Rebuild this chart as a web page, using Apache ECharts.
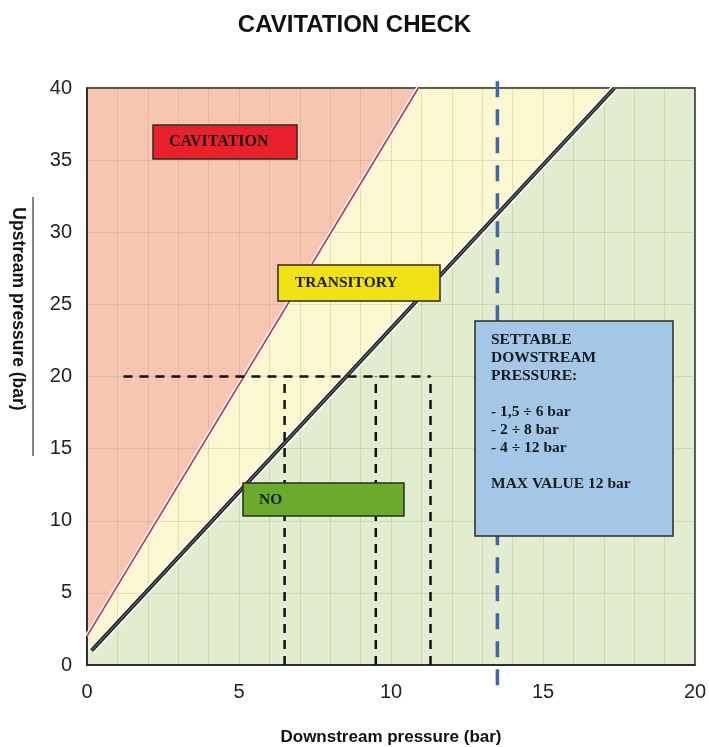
<!DOCTYPE html>
<html>
<head>
<meta charset="utf-8">
<script src="https://cdn.jsdelivr.net/npm/echarts@6/dist/echarts.min.js"></script>
<style>
  html, body { margin: 0; padding: 0; background: #fff; }
  #main { width: 709px; height: 747px; }
</style>
</head>
<body>
<div id="main"></div>
<script>
// zone polygons (downstream, upstream) in bar
const cavitationZone = [[0, 2], [10.9, 40], [0, 40]];
const transitoryZone = [[0, 2], [10.9, 40], [17.35, 40], [0.15, 1.0], [0, 1.0]];
const noZone = [[0, 0], [20, 0], [20, 40], [17.35, 40], [0.15, 1.0], [0, 1.0]];

// boundary lines
const cavitationLine = [[0, 2], [10.9, 40]];
const transitoryLine = [[0.15, 1.0], [17.35, 40]];

// example check at 20 bar upstream
const checkHoriz = [[1.2, 20], [11.3, 20]];
const checkVerticals = [6.5, 9.5, 11.3];
const checkUpstream = 20;

// max settable downstream
const maxDownstream = 13.5;

const xTicks = [0, 5, 10, 15, 20];
const yTicks = [0, 5, 10, 15, 20, 25, 30, 35, 40];

const settableText = [
  'SETTABLE',
  'DOWSTREAM',
  'PRESSURE:',
  '',
  '- 1,5 ÷ 6 bar',
  '- 2 ÷ 8 bar',
  '- 4 ÷ 12 bar',
  '',
  'MAX VALUE 12 bar'
];

const zones = [
  { points: noZone, color: '#e2edd0' },
  { points: transitoryZone, color: '#fbf7d0' },
  { points: cavitationZone, color: '#f7c6b3' }
];

const chart = echarts.init(document.getElementById('main'));

const dashed = (data) => ({
  type: 'line',
  data: data,
  symbol: 'none',
  silent: true,
  lineStyle: { color: '#111', width: 2.5, type: [9, 7] },
  z: 5
});

const serif = '"Liberation Serif", "DejaVu Serif", serif';
const sans = '"Liberation Sans", Arial, sans-serif';

function box(x, y, w, h, fill, text, tx, fontSize) {
  return {
    type: 'group',
    children: [
      {
        type: 'rect',
        shape: { x: x, y: y, width: w, height: h },
        style: { fill: fill, stroke: '#2a2a2a', lineWidth: 1.5 },
        z: 10
      },
      {
        type: 'text',
        x: tx,
        y: y + h / 2,
        style: {
          text: text,
          font: 'bold ' + fontSize + 'px ' + serif,
          fill: '#1a1a1a',
          verticalAlign: 'middle'
        },
        z: 11
      }
    ]
  };
}

const option = {
  animation: false,
  backgroundColor: '#fff',
  title: {
    text: 'CAVITATION CHECK',
    left: 'center',
    top: 8,
    textStyle: { fontFamily: sans, fontSize: 24, fontWeight: 'bold', color: '#111' }
  },
  grid: {
    left: 87, right: 14, top: 88, bottom: 82,
    outerBoundsMode: 'none',
    containLabel: false,
    show: true, borderColor: '#222', borderWidth: 1.5, backgroundColor: 'transparent'
  },
  xAxis: {
    type: 'value',
    min: xTicks[0], max: xTicks[xTicks.length - 1], interval: 5,
    name: 'Downstream pressure (bar)',
    nameLocation: 'middle',
    nameGap: 64,
    nameTextStyle: { fontFamily: sans, fontSize: 17, fontWeight: 'bold', color: '#111' },
    axisLine: { lineStyle: { color: '#222', width: 1.5 } },
    axisTick: { show: false },
    axisLabel: { fontFamily: sans, fontSize: 20, color: '#222', margin: 17 },
    splitLine: { show: true, lineStyle: { color: 'rgba(130,150,70,0.22)', width: 1 } },
    minorTick: { show: false, splitNumber: 5 },
    minorSplitLine: { show: true, lineStyle: { color: 'rgba(130,150,70,0.22)', width: 1 } }
  },
  yAxis: {
    type: 'value',
    min: yTicks[0], max: yTicks[yTicks.length - 1], interval: 5,
    axisLine: { show: true, lineStyle: { color: '#222', width: 1.5 } },
    axisTick: { show: false },
    axisLabel: { fontFamily: sans, fontSize: 20, color: '#222', margin: 15 },
    splitLine: { show: true, lineStyle: { color: 'rgba(130,150,70,0.22)', width: 1 } }
  },
  series: [
    {
      type: 'custom',
      silent: true,
      z: -1,
      data: zones.map((z, i) => i),
      renderItem: function (params, api) {
        const zone = zones[params.dataIndex];
        return {
          type: 'polygon',
          shape: { points: zone.points.map((p) => api.coord(p)) },
          style: { fill: zone.color }
        };
      }
    },
    // cavitation boundary
    {
      type: 'line', data: cavitationLine, symbol: 'none', silent: true, z: 4,
      lineStyle: { color: '#ffffff', width: 4.5 }
    },
    {
      type: 'line', data: cavitationLine, symbol: 'none', silent: true, z: 4,
      lineStyle: { color: '#b8405e', width: 1.8 }
    },
    // transitory boundary
    {
      type: 'line', data: transitoryLine, symbol: 'none', silent: true, z: 4,
      lineStyle: { color: '#ffffff', width: 7 }
    },
    {
      type: 'line', data: transitoryLine, symbol: 'none', silent: true, z: 4,
      lineStyle: { color: '#1e1e1e', width: 4 }
    },
    {
      type: 'line', data: transitoryLine, symbol: 'none', silent: true, z: 4,
      lineStyle: { color: '#6a6a6a', width: 1.2 }
    },
    dashed(checkHoriz),
    ...checkVerticals.map((x) => dashed([[x, 0], [x, checkUpstream]])),
    {
      type: 'line',
      data: [[maxDownstream, -1.4], [maxDownstream, 40.8]],
      symbol: 'none', silent: true, clip: false, z: 6,
      lineStyle: { color: '#3c68a6', width: 3.5, type: [16, 12] }
    }
  ],
  graphic: [
    {
      type: 'text',
      x: 18,
      y: 309,
      rotation: -Math.PI / 2,
      style: {
        text: 'Upstream pressure (bar)',
        font: 'bold 17.5px ' + sans,
        fill: '#111',
        align: 'center',
        verticalAlign: 'middle'
      }
    },
    {
      type: 'line',
      shape: { x1: 33, y1: 197, x2: 33, y2: 456 },
      style: { stroke: '#333', lineWidth: 1.2 }
    },
    box(153, 125, 144, 34, '#e8212b', 'CAVITATION', 169, 16),
    box(278, 265, 162, 36, '#f0e215', 'TRANSITORY', 295, 15.5),
    box(243, 483, 161, 33, '#6aab2b', 'NO', 259, 15.5),
    {
      type: 'group',
      children: [
        {
          type: 'rect',
          shape: { x: 475, y: 321, width: 198, height: 215 },
          style: { fill: '#a4c7e7', stroke: '#2a2a2a', lineWidth: 1.5 },
          z: 10
        },
        {
          type: 'text',
          x: 491,
          y: 331,
          style: {
            text: settableText.join('\n'),
            font: 'bold 15.5px ' + serif,
            lineHeight: 18,
            fill: '#1a1a1a'
          },
          z: 11
        }
      ]
    }
  ]
};

chart.setOption(option);
</script>
</body>
</html>
